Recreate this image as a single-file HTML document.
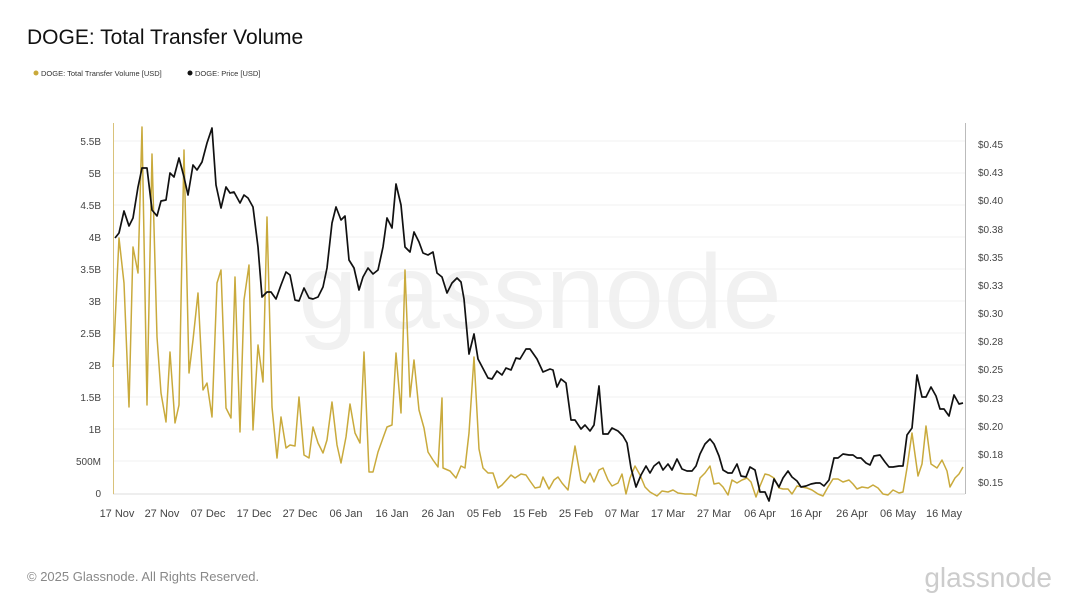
<!DOCTYPE html>
<html><head><meta charset="utf-8"><style>
body{margin:0;background:#fff;font-family:"Liberation Sans",sans-serif;}
</style></head><body>
<svg width="1080" height="608" viewBox="0 0 1080 608" xmlns="http://www.w3.org/2000/svg" font-family="Liberation Sans, sans-serif">
<rect width="1080" height="608" fill="#fff"/>
<text x="27" y="44" font-size="21" fill="#111">DOGE: Total Transfer Volume</text>
<circle cx="36" cy="73" r="2.5" fill="#c9a93a"/><text x="41" y="76" font-size="7.5" fill="#333">DOGE: Total Transfer Volume [USD]</text>
<circle cx="190" cy="73" r="2.5" fill="#111"/><text x="195" y="76" font-size="7.5" fill="#333">DOGE: Price [USD]</text>
<text x="540" y="328" font-size="106" fill="#f1f1f1" text-anchor="middle">glassnode</text>
<g stroke="#f0f0f0" stroke-width="1">
<line x1="113" x2="965" y1="461" y2="461"/><line x1="113" x2="965" y1="429" y2="429"/><line x1="113" x2="965" y1="397" y2="397"/><line x1="113" x2="965" y1="365" y2="365"/><line x1="113" x2="965" y1="333" y2="333"/><line x1="113" x2="965" y1="301" y2="301"/><line x1="113" x2="965" y1="269" y2="269"/><line x1="113" x2="965" y1="237" y2="237"/><line x1="113" x2="965" y1="205" y2="205"/><line x1="113" x2="965" y1="173" y2="173"/><line x1="113" x2="965" y1="141" y2="141"/>
</g>
<line x1="113" x2="965" y1="494" y2="494" stroke="#ddd"/>
<line x1="113.5" x2="113.5" y1="123" y2="494" stroke="#d9c27a"/>
<line x1="965.5" x2="965.5" y1="123" y2="494" stroke="#bbb"/>
<g font-size="10" fill="#444" text-anchor="end">
<text x="101" y="497">0</text><text x="101" y="465">500M</text><text x="101" y="433">1B</text><text x="101" y="401">1.5B</text><text x="101" y="369">2B</text><text x="101" y="337">2.5B</text><text x="101" y="305">3B</text><text x="101" y="273">3.5B</text><text x="101" y="241">4B</text><text x="101" y="209">4.5B</text><text x="101" y="177">5B</text><text x="101" y="145">5.5B</text>
</g>
<g font-size="10" fill="#444">
<text x="978" y="148">$0.45</text><text x="978" y="176">$0.43</text><text x="978" y="204">$0.40</text><text x="978" y="233">$0.38</text><text x="978" y="261">$0.35</text><text x="978" y="289">$0.33</text><text x="978" y="317">$0.30</text><text x="978" y="345">$0.28</text><text x="978" y="373">$0.25</text><text x="978" y="402">$0.23</text><text x="978" y="430">$0.20</text><text x="978" y="458">$0.18</text><text x="978" y="486">$0.15</text>
</g>
<g font-size="11" fill="#444" text-anchor="middle">
<text x="117" y="517">17 Nov</text><text x="162" y="517">27 Nov</text><text x="208" y="517">07 Dec</text><text x="254" y="517">17 Dec</text><text x="300" y="517">27 Dec</text><text x="346" y="517">06 Jan</text><text x="392" y="517">16 Jan</text><text x="438" y="517">26 Jan</text><text x="484" y="517">05 Feb</text><text x="530" y="517">15 Feb</text><text x="576" y="517">25 Feb</text><text x="622" y="517">07 Mar</text><text x="668" y="517">17 Mar</text><text x="714" y="517">27 Mar</text><text x="760" y="517">06 Apr</text><text x="806" y="517">16 Apr</text><text x="852" y="517">26 Apr</text><text x="898" y="517">06 May</text><text x="944" y="517">16 May</text>
</g>
<polyline fill="none" stroke="#c9aa3c" stroke-width="1.5" stroke-linejoin="round" points="113,367 119,238 124,283 129,407 133,247 138,273 142,127 147,405 152,154 157,337 161,393 166,422 170,352 175,423 179,405 184,150 189,373 193,340 198,293 203,390 207,383 212,417 217,283 221,270 226,408 231,418 235,277 240,432 244,300 249,265 253,430 258,345 263,382 267,217 272,407 277,458 281,417 286,448 290,445 295,446 299,397 304,455 309,458 313,427 318,443 323,453 327,440 332,402 337,445 341,463 346,437 350,404 355,433 360,443 364,352 369,472 373,472 378,452 383,438 387,427 392,425 396,353 401,413 405,270 410,397 414,360 419,410 424,428 428,452 433,460 438,467 442,398 443,468 450,471 456,478 461,466 465,468 469,433 474,357 479,449 483,468 488,473 493,473 498,488 502,485 511,475 515,478 521,474 526,475 530,481 535,488 540,487 543,477 549,489 554,480 558,477 562,483 568,490 575,446 581,480 585,483 590,473 594,482 599,470 603,468 608,480 612,486 618,483 622,474 626,494 630,478 635,466 640,475 645,487 650,492 657,496 662,491 668,492 673,490 678,493 685,494 692,494 696,496 700,478 705,473 710,466 714,484 719,483 723,487 728,495 732,480 737,483 742,480 747,478 751,482 756,497 760,486 765,474 769,475 774,478 779,488 783,489 788,489 792,494 797,486 802,487 807,488 812,490 818,494 823,496 828,487 833,479 838,479 843,482 849,480 853,484 857,489 862,487 868,488 873,485 878,488 883,494 888,495 893,490 899,493 903,492 907,468 912,433 918,476 922,464 926,426 931,464 937,468 942,460 947,471 950,487 955,478 959,474 963,467"/>
<polyline fill="none" stroke="#111" stroke-width="1.7" stroke-linejoin="round" points="115,238 119,233 124,211 129,226 133,218 138,187 142,168 147,168 152,210 157,216 161,201 166,200 170,173 174,177 179,158 184,177 188,195 193,165 197,170 202,162 207,143 212,128 216,185 221,208 226,187 230,193 234,192 240,203 244,195 248,198 253,207 258,247 262,297 267,292 271,292 276,299 281,285 286,272 290,275 295,300 299,301 304,288 309,298 313,299 318,297 323,287 327,268 332,223 336,207 341,220 345,216 349,260 354,268 359,290 363,277 368,268 373,274 378,270 383,247 387,218 392,228 396,184 401,205 405,247 410,252 414,232 419,242 423,253 428,255 433,252 437,273 442,277 447,293 452,283 457,278 461,282 464,299 469,354 474,334 478,359 488,378 492,379 497,371 502,375 506,368 511,370 516,358 520,359 526,349 530,349 537,359 543,372 550,369 553,370 557,387 561,379 566,383 571,420 575,420 581,429 585,425 590,431 594,425 599,386 603,434 608,434 612,428 618,431 623,436 627,443 631,468 636,487 641,475 646,466 650,473 654,466 659,462 663,470 668,464 672,470 677,459 682,469 687,471 692,471 696,466 700,454 705,444 710,439 714,444 719,456 723,470 728,473 732,473 737,464 741,476 746,477 750,467 755,470 760,492 765,492 769,501 774,479 779,487 783,478 788,471 792,477 797,481 801,487 806,486 811,484 816,483 820,483 824,486 829,480 834,458 838,458 843,454 849,455 853,455 857,458 861,458 866,463 870,465 874,456 880,455 885,462 889,467 893,467 899,466 903,466 907,435 912,428 917,375 922,397 926,397 931,387 936,396 940,409 944,409 949,416 954,395 959,404 963,403"/>
<text x="27" y="581" font-size="13" fill="#888">© 2025 Glassnode. All Rights Reserved.</text>
<text x="1052" y="587" font-size="28" fill="#ccc" text-anchor="end">glassnode</text>
</svg>
</body></html>
